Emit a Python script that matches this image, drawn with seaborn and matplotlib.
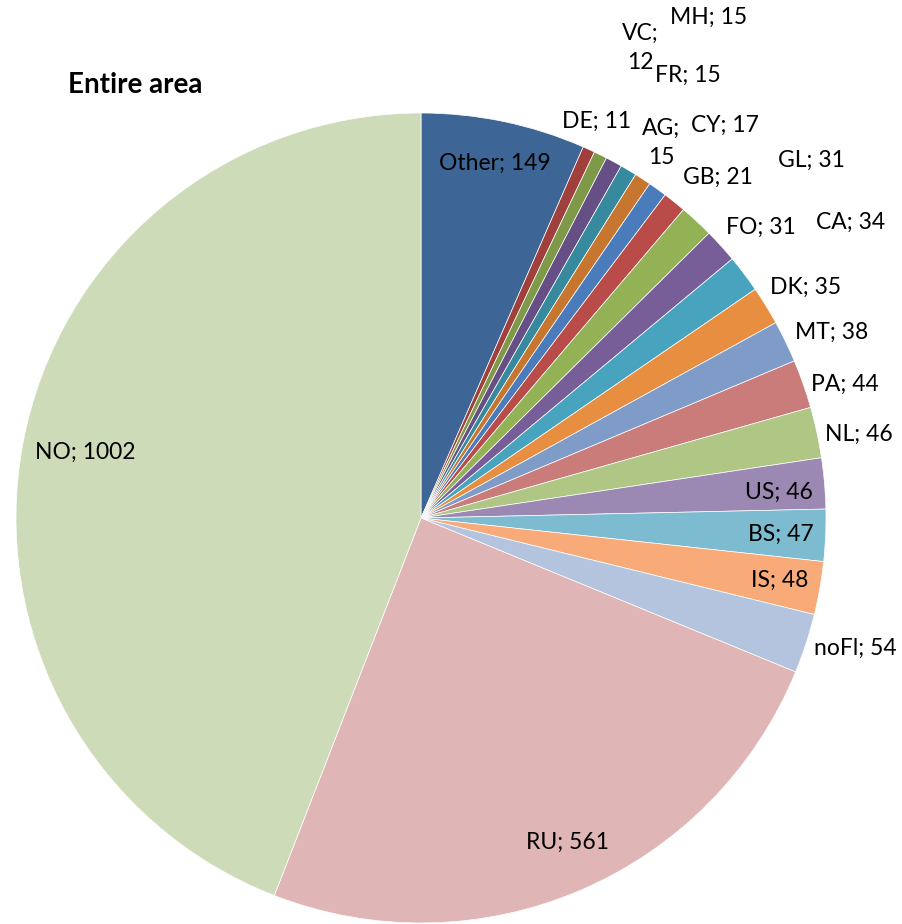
import matplotlib
matplotlib.use('Agg')
import matplotlib.pyplot as plt
import seaborn as sns

# flag states, clockwise from 12 o'clock
flags = ['Other', 'DE', 'VC', 'MH', 'AG', 'FR', 'CY', 'GB', 'GL', 'FO', 'CA',
         'DK', 'MT', 'PA', 'NL', 'US', 'BS', 'IS', 'noFl', 'RU', 'NO']
counts = [149, 11, 12, 15, 15, 15, 17, 21, 31, 31, 34,
          35, 38, 44, 46, 46, 47, 48, 54, 561, 1002]

# Excel-like palette (base, darker, lighter shades)
colors = ['#3D6596', '#A0403D', '#7E9A48', '#664F84', '#378A9E', '#C7762F',
          '#4A7BBA', '#B94B48', '#93B155', '#785E99', '#48A4BE', '#E88E40',
          '#7F9CC9', '#CA7C7A', '#AFC685', '#9C89B3', '#7DBBD0', '#F8AA78',
          '#B5C4DE', '#DFB5B5', '#CEDBB9']

# label centres in pixels (layout only, Excel placed them by hand)
label_px = [(495, 163), (597, 121), (640, 48), (709, 17), (661, 143),
            (688, 75), (725, 125), (718, 177), (811, 160), (761, 227),
            (851, 222), (806, 287), (832, 332), (845, 384), (859, 434),
            (779, 492), (781, 534), (780, 580), (855, 648), (568, 842),
            (85, 452)]

W, H = 902, 924

sns.set_theme(style='white')
plt.rcParams['font.family'] = ['Lato', 'DejaVu Sans']

fig = plt.figure(figsize=(W / 100, H / 100), dpi=100)
# pie: centre (421, 518) px, radius 405 px
ax = fig.add_axes([16 / W, 1 / H, 810 / W, 810 / H])
ax.pie(counts, colors=colors, startangle=90, counterclock=False,
       wedgeprops=dict(edgecolor='white', linewidth=0.5))
ax.set_xlim(-1, 1)
ax.set_ylim(-1, 1)
ax.set_aspect('equal')
ax.axis('off')

for name, n, (px, py) in zip(flags, counts, label_px):
    txt = f'{name}; {n}'
    if name in ('VC', 'AG'):
        txt = f'{name};\n{n}'
    fig.text(px / W, 1 - py / H, txt, ha='center', va='center',
             fontsize=16.5, color='black', linespacing=1.5)

fig.text(68 / W, 1 - 93 / H, 'Entire area', ha='left', va='baseline',
         fontsize=20, fontweight='bold', color='black')

fig.savefig('out.png', dpi=100)
